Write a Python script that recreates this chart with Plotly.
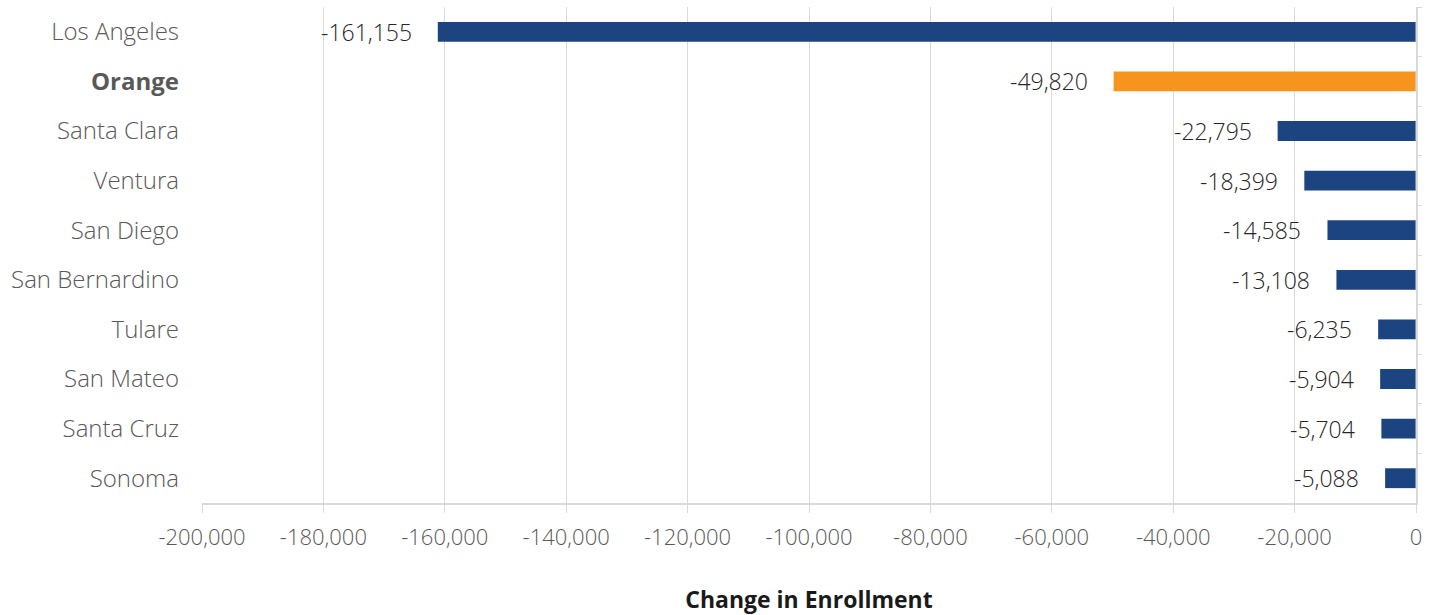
import plotly.graph_objects as go

counties = ["Los Angeles", "Orange", "Santa Clara", "Ventura", "San Diego",
            "San Bernardino", "Tulare", "San Mateo", "Santa Cruz", "Sonoma"]
changes = [-161155, -49820, -22795, -18399, -14585, -13108, -6235, -5904, -5704, -5088]
highlight = "Orange"
tick_vals = [-200000, -180000, -160000, -140000, -120000, -100000, -80000, -60000, -40000, -20000, 0]

def fmt(v):
    return ("-" if v < 0 else "") + f"{abs(v):,}"

FONT = "Open Sans"
blue = "#1B4480"
orange = "#F7941D"
colors = [orange if c == highlight else blue for c in counties]
ticktext_y = [f"<b>{c}</b>" if c == highlight else c for c in counties]

fig = go.Figure()
fig.add_trace(go.Bar(
    y=counties, x=changes, orientation="h",
    marker=dict(color=colors, line=dict(width=0)),
    hoverinfo="skip",
))
# invisible trace to carry the right-side category axis ticks
fig.add_trace(go.Bar(y=counties, x=[0]*len(counties), orientation="h",
                     yaxis="y2", showlegend=False, hoverinfo="skip",
                     marker=dict(color="rgba(0,0,0,0)")))

for c, v in zip(counties, changes):
    fig.add_annotation(x=v, y=c, text=fmt(v), showarrow=False,
                       xanchor="right", xshift=-24, yanchor="middle",
                       font=dict(family=FONT, size=23, color="#262626", weight=300))

fig.update_layout(
    width=1435, height=615,
    margin=dict(l=202, r=19, t=7, b=112),
    plot_bgcolor="white", paper_bgcolor="white",
    showlegend=False, bargap=0.6,
    font=dict(family=FONT, color="#595959"),
    xaxis=dict(
        range=[-200000, 0], tickvals=tick_vals, ticktext=[fmt(v) for v in tick_vals],
        automargin=False,
        showgrid=True, gridcolor="#D9D9D9", gridwidth=1, zeroline=False,
        showline=True, linecolor="#D9D9D9", linewidth=1.5,
        ticks="outside", ticklen=8, tickcolor="#D9D9D9",
        ticklabelstandoff=6,
        tickfont=dict(family=FONT, size=22, color="#595959", weight=300),
        title=dict(text="<b>Change in Enrollment</b>", standoff=44,
                   font=dict(family=FONT, size=23, color="#1a1a1a")),
    ),
    yaxis=dict(
        categoryorder="array", categoryarray=counties,
        tickvals=counties, ticktext=ticktext_y,
        autorange="reversed", automargin=False,
        ticks="", showgrid=False, zeroline=False, showline=False,
        tickfont=dict(family=FONT, size=24, color="#595959", weight=300),
        ticklabelstandoff=22,
    ),
    yaxis2=dict(
        overlaying="y", side="right", matches="y", automargin=False,
        showticklabels=False, showgrid=False, zeroline=False,
        showline=True, linecolor="#D9D9D9", linewidth=1.5,
        ticks="outside", ticklen=4, tickcolor="#D9D9D9", tickson="boundaries",
    ),
)

fig.write_html("out.html")
